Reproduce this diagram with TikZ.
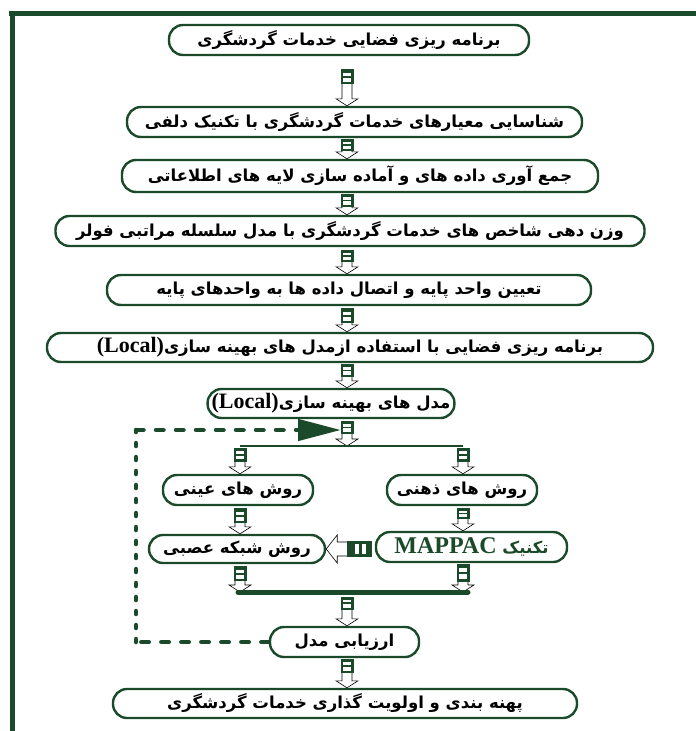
\documentclass[tikz,border=0pt]{standalone}
\usepackage{fontspec}
\usetikzlibrary{calc,arrows.meta}
\TeXXeTstate=1
\newfontfamily\fatext[Script=Arabic]{DejaVu Sans}
\newfontfamily\latext{Liberation Serif}
\definecolor{dkgreen}{RGB}{26,74,42}

% right-to-left text and the latin words inside it
\newcommand{\farsi}[1]{\beginR #1\endR}
\newcommand{\latinpart}[2][22]{\beginL{\latext\bfseries\fontsize{#1}{#1}\selectfont #2}\endL}

% block with two bars, then hollow arrow down to the target
\newcommand{\vlink}[4]{%
  \path #1 coordinate (ls) #2 coordinate (lh);
  \path (ls) ++(0,#3) coordinate (lt) ++(0,#4) coordinate (lb);
  \fill[dkgreen] ($(lt)+(-6.5,0)$) rectangle ($(lb)+(6.5,0)$);
  \fill[white] ($(lt)+(-4,0.22*#4)$) rectangle ($(lt)+(4,0.42*#4)$);
  \fill[white] ($(lt)+(-4,0.56*#4)$) rectangle ($(lt)+(4,0.82*#4)$);
  \draw[hollow] ($(lb)+(-5,0)$) -- ($(lh)+(-5,-7)$) -- ($(lh)+(-11,-7)$) -- (lh)
    -- ($(lh)+(11,-7)$) -- ($(lh)+(5,-7)$) -- ($(lb)+(5,0)$);
}

\tikzset{
  stage/.style={draw=dkgreen, line width=2.4pt, rounded corners=14pt, fill=white,
    inner sep=0pt, font=\fatext\bfseries\fontsize{16.5}{18}\selectfont},
  hollow/.style={draw=black, line width=0.6pt, fill=white, line join=miter},
  dashpart/.style={draw=dkgreen, line width=4.5pt, line cap=round, dash pattern=on 7.5pt off 12.5pt},
  dotpart/.style={draw=dkgreen, line width=4.5pt, line cap=round, dash pattern=on 3pt off 11pt},
  frame/.style={draw=dkgreen, line width=5pt},
}

\begin{document}
\begin{tikzpicture}[x=1pt, y=-1pt]
\useasboundingbox (0,0) rectangle (696,731);

% frame
\draw[frame] (9,13.5) -- (696,13.5);
\draw[frame] (12,11) -- (12,731);

% main column
\node[stage, minimum width=360, minimum height=30] (b1) at (349,40)
  {\farsi{برنامه ریزی فضایی خدمات گردشگری}};
\node[stage, minimum width=455, minimum height=30] (b2) at (354.5,122)
  {\farsi{شناسایی معیارهای خدمات گردشگری با تکنیک دلفی}};
\node[stage, minimum width=476, minimum height=32] (b3) at (360,176)
  {\farsi{جمع آوری داده های و آماده سازی لایه های اطلاعاتی}};
\node[stage, minimum width=589, minimum height=30] (b4) at (350,231)
  {\farsi{وزن دهی شاخص های خدمات گردشگری با مدل سلسله مراتبی فولر}};
\node[stage, minimum width=484, minimum height=30] (b5) at (349,290)
  {\farsi{تعیین واحد پایه و اتصال داده ها به واحدهای پایه}};
\node[stage, minimum width=606, minimum height=29] (b6) at (350,347.5)
  {\farsi{برنامه ریزی فضایی با استفاده ازمدل های بهینه سازی\latinpart{(Local)}}};
\node[stage, inner xsep=4pt, minimum width=240, minimum height=29] (b7) at (331,403.5)
  {\farsi{مدل های بهینه سازی\latinpart{(Local)}}};

% two branches
\node[stage, minimum width=150, minimum height=30] (b8) at (238,490)
  {\farsi{روش های عینی}};
\node[stage, minimum width=150, minimum height=30] (b9) at (462,490)
  {\farsi{روش های ذهنی}};
\node[stage, minimum width=176, minimum height=28] (b10) at (237,549)
  {\farsi{روش شبکه عصبی}};
\node[stage, minimum width=191, minimum height=30, text=dkgreen] (b11) at (471.5,547)
  {\farsi{تکنیک \latinpart[24]{MAPPAC}}};

% evaluation and result
\node[stage, minimum width=149, minimum height=30] (b12) at (344.5,642)
  {\farsi{ارزیابی مدل}};
\node[stage, minimum width=464, minimum height=29] (b13) at (345,703.5)
  {\farsi{پهنه بندی و اولویت گذاری خدمات گردشگری}};

\coordinate (axis) at (347,0);
\coordinate (splitl) at (240,446);
\coordinate (splitr) at (463,446);
\coordinate (mergel) at (238,592);
\coordinate (merger) at (468,592);
\coordinate (fbcorner) at (136,430);
\coordinate (fbtip) at (341,430);
\coordinate (fbbot) at (b12.west -| fbcorner);

% links in the main column
\vlink{(axis |- b1.south)}{(axis |- b2.north)}{13}{15}
\vlink{(axis |- b2.south)}{(axis |- b3.north)}{1}{12}
\vlink{(axis |- b3.south)}{(axis |- b4.north)}{1}{13}
\vlink{(axis |- b4.south)}{(axis |- b5.north)}{3}{12}
\vlink{(axis |- b5.south)}{(axis |- b6.north)}{2}{15}
\vlink{(axis |- b6.south)}{(axis |- b7.north)}{1}{13}
\vlink{(axis |- b7.south)}{(axis |- splitl)}{2}{13}

% split and merge lines
\draw[dkgreen, line width=2pt] (splitl) -- (splitr);
\vlink{(splitl)}{(splitl |- b8.north)}{2}{14}
\vlink{(splitr)}{(splitr |- b9.north)}{2}{14}
\vlink{(splitl |- b8.south)}{(splitl |- b10.north)}{2}{15}
\vlink{(splitr |- b9.south)}{(splitr |- b11.north)}{2}{11}
\vlink{(splitl |- b10.south)}{(splitl |- mergel)}{2}{15}
\vlink{(splitr |- b11.south)}{(splitr |- merger)}{1}{18}
\draw[dkgreen, line width=5pt, line cap=round] (mergel) -- (merger);
\vlink{(axis |- mergel)}{(axis |- b12.north)}{5}{13}
\vlink{(axis |- b12.south)}{(axis |- b13.north)}{1}{14}

% link from MAPPAC to the neural network box
\path (b11.west |- b10.east) ++(-3,0) coordinate (hr) ++(-25,0) coordinate (hl);
\fill[dkgreen] ($(hr)+(0,-8)$) rectangle ($(hl)+(0,8)$);
\fill[white] ($(hl)+(8,-5)$) rectangle ($(hl)+(12,5)$);
\fill[white] ($(hl)+(15,-5)$) rectangle ($(hl)+(19,5)$);
\draw[hollow] ($(hl)+(0,-7)$) -- ($(b10.east)+(11,-7)$) -- ($(b10.east)+(11,-14)$) -- (b10.east)
  -- ($(b10.east)+(11,14)$) -- ($(b10.east)+(11,7)$) -- ($(hl)+(0,7)$);

% feedback from the evaluation
\draw[dashpart] (b12.west) -- (fbbot);
\draw[dotpart] (fbbot) -- (fbcorner);
\draw[dashpart, -{Triangle[length=43pt,width=21pt]}] (fbcorner) -- (fbtip);
\end{tikzpicture}
\end{document}
